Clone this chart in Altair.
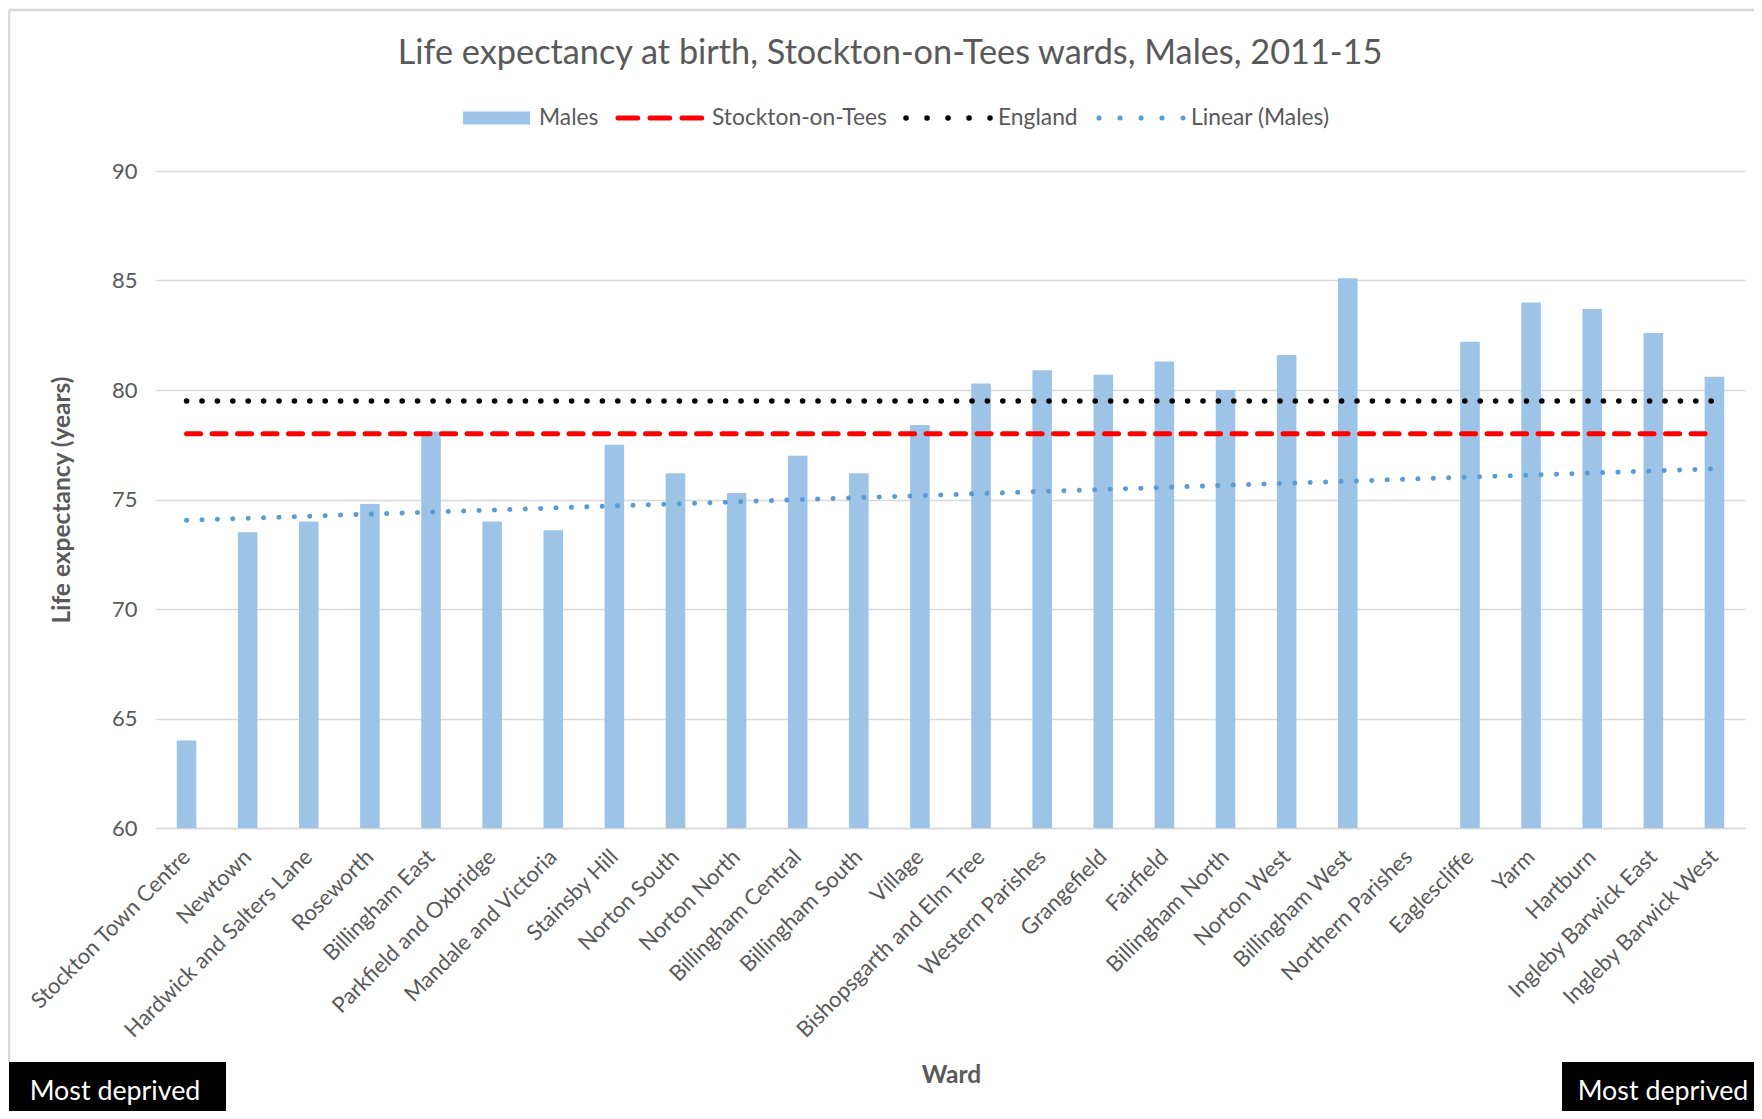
import altair as alt
import pandas as pd

# ---------------- data ----------------
wards = [
    "Stockton Town Centre", "Newtown", "Hardwick and Salters Lane", "Roseworth",
    "Billingham East", "Parkfield and Oxbridge", "Mandale and Victoria",
    "Stainsby Hill", "Norton South", "Norton North", "Billingham Central",
    "Billingham South", "Village", "Bishopsgarth and Elm Tree", "Western Parishes",
    "Grangefield", "Fairfield", "Billingham North", "Norton West", "Billingham West",
    "Northern Parishes", "Eaglescliffe", "Yarm", "Hartburn", "Ingleby Barwick East",
    "Ingleby Barwick West",
]
males = [64.0, 73.5, 74.0, 74.8, 78.1, 74.0, 73.6, 77.5, 76.2, 75.3, 77.0, 76.2,
         78.4, 80.3, 80.9, 80.7, 81.3, 80.0, 81.6, 85.1, None, 82.2, 84.0, 83.7,
         82.6, 80.6]
stockton_le = 78.0
england_le = 79.5
trend_start = 74.05
trend_end = 76.4
y_ticks = [60, 65, 70, 75, 80, 85, 90]
legend_labels = ["Males", "Stockton-on-Tees", "England", "Linear (Males)"]
title_text = "Life expectancy at birth, Stockton-on-Tees wards, Males, 2011-15"
corner_label = "Most deprived"

# ---------------- styling ----------------
FONT = "Lato"
GREY = "#595959"
BAR = "#9DC3E6"
TREND = "#5B9BD5"
W, H = 1589, 657

df = pd.DataFrame({"ward": wards, "males": males})
ends = pd.DataFrame({
    "ward": [wards[0], wards[-1]],
    "stockton": [stockton_le, stockton_le],
    "england": [england_le, england_le],
    "trend": [trend_start, trend_end],
})
one = pd.DataFrame({"k": [0]})

xscale = alt.Scale(domain=wards, paddingInner=0.68, paddingOuter=0.34)
yscale = alt.Scale(domain=[60, 90], zero=False, nice=False)

x_axis = alt.Axis(
    title="Ward", titleFont=FONT, titleFontSize=24.5, titleFontWeight="bold",
    titleColor=GREY, titleX=795, titleY=247, titleAlign="center", titleBaseline="middle",
    labelAngle=-45, labelAlign="right", labelBaseline="middle", labelFont=FONT,
    labelFontSize=22, labelColor=GREY, labelPadding=25, labelLimit=0, ticks=False,
    domain=True, domainColor="#D9D9D9", domainWidth=1.5, grid=False, labelOverlap=False,
)
y_axis = alt.Axis(
    values=y_ticks, title="Life expectancy (years)", titleFont=FONT, titleFontSize=24.5,
    titleFontWeight="bold", titleColor=GREY, titleAngle=270, titleX=-94, titleY=H / 2,
    titleAlign="center", titleBaseline="middle", labelFont=FONT, labelFontSize=22,
    labelColor=GREY, labelPadding=19, ticks=False, domain=False, grid=True,
    gridColor="#D9D9D9", gridWidth=1.5,
)

xe = alt.X("ward:N", scale=xscale, sort=wards, axis=x_axis)


def ye(field):
    return alt.Y(field, scale=yscale, axis=y_axis)


bars = alt.Chart(df).mark_bar(color=BAR).encode(
    x=xe, y=ye("males:Q"), y2=alt.datum(60),
)

stockton_line = alt.Chart(ends).mark_line(
    color="#FF0000", strokeWidth=5, strokeDash=[14, 11.5], strokeCap="round"
).encode(x=xe, y=ye("stockton:Q"))

england_line = alt.Chart(ends).mark_line(
    color="#000000", strokeWidth=5.5, strokeDash=[0.1, 15.3], strokeCap="round"
).encode(x=xe, y=ye("england:Q"))

trend_line = alt.Chart(ends).mark_line(
    color=TREND, strokeWidth=5, strokeDash=[0.1, 15.3], strokeCap="round"
).encode(x=xe, y=ye("trend:Q"))

# ---------------- title & legend ----------------
title = alt.Chart(one).mark_text(
    text=title_text, font=FONT, fontSize=34.3, color=GREY, align="center", baseline="middle"
).encode(x=alt.value(734), y=alt.value(-117))

LY = -53
leg = [
    alt.Chart(one).mark_rect(color=BAR).encode(
        x=alt.value(307), x2=alt.value(374), y=alt.value(LY - 6.5), y2=alt.value(LY + 6.5)),
    alt.Chart(one).mark_rule(color="#FF0000", strokeWidth=5, strokeDash=[19.7, 12.3],
                             strokeCap="round").encode(
        x=alt.value(462), x2=alt.value(547), y=alt.value(LY)),
    alt.Chart(one).mark_rule(color="#000000", strokeWidth=5.5, strokeDash=[0.1, 20.9],
                             strokeCap="round").encode(
        x=alt.value(750), x2=alt.value(834), y=alt.value(LY)),
    alt.Chart(one).mark_rule(color=TREND, strokeWidth=5, strokeDash=[0.1, 20.9],
                             strokeCap="round").encode(
        x=alt.value(943), x2=alt.value(1027), y=alt.value(LY)),
]
for label, lx in zip(legend_labels, [383, 556, 842, 1035]):
    leg.append(alt.Chart(one).mark_text(
        text=label, font=FONT, fontSize=22.8, color=GREY, align="left", baseline="middle"
    ).encode(x=alt.value(lx), y=alt.value(LY)))

# ---------------- frame & corner boxes ----------------
frame = [
    alt.Chart(one).mark_rule(color="#D9D9D9", strokeWidth=2.5).encode(
        x=alt.value(-147), x2=alt.value(1600), y=alt.value(-161)),
    alt.Chart(one).mark_rule(color="#D9D9D9", strokeWidth=2.5).encode(
        x=alt.value(-147), y=alt.value(-161), y2=alt.value(891)),
]
boxes = [
    alt.Chart(one).mark_rect(color="#000000").encode(
        x=alt.value(-147), x2=alt.value(70), y=alt.value(891), y2=alt.value(960)),
    alt.Chart(one).mark_rect(color="#000000").encode(
        x=alt.value(1406), x2=alt.value(1620), y=alt.value(891), y2=alt.value(960)),
    alt.Chart(one).mark_text(text=corner_label, font=FONT, fontSize=26.8, color="white",
                             align="center", baseline="middle").encode(
        x=alt.value(-41), y=alt.value(921)),
    alt.Chart(one).mark_text(text=corner_label, font=FONT, fontSize=26.8, color="white",
                             align="center", baseline="middle").encode(
        x=alt.value(1507), y=alt.value(921)),
]

chart = alt.layer(
    bars, stockton_line, england_line, trend_line, title, *leg, *frame, *boxes
).properties(
    width=W, height=H,
    autosize=alt.AutoSizeParams(type="none"),
    padding={"left": 148, "top": 163, "right": 9, "bottom": 283},
    background="white",
).configure_view(stroke=None)

chart.save("out.html", embed_options={"renderer": "svg", "actions": False})
